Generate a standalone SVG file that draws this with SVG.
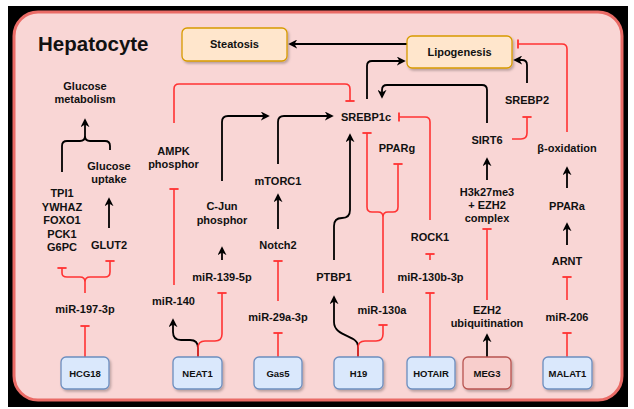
<svg xmlns="http://www.w3.org/2000/svg" width="634" height="409" viewBox="0 0 634 409">
<defs>
<style>
.lbl{font-family:"Liberation Sans",Arial,sans-serif;font-weight:bold;font-size:11px;fill:#111;text-anchor:middle}
.box{font-family:"Liberation Sans",Arial,sans-serif;font-weight:bold;font-size:9.5px;fill:#111;text-anchor:middle}
.blk{fill:none;stroke:#000;stroke-width:1.8;marker-end:url(#arr)}
.red{fill:none;stroke:#f33;stroke-width:1.6;marker-end:url(#tee)}
.redn{fill:none;stroke:#f33;stroke-width:1.6}
.lnb{fill:none;stroke:#000;stroke-width:1.8}
.lnc{fill:none;stroke:#f33;stroke-width:1.6}
.blue{fill:#dae8fc;stroke:#6c8ebf;stroke-width:1.3}
.org{fill:#ffe6cc;stroke:#d79b00;stroke-width:1.3}
.pnk{fill:#f8cecc;stroke:#b85450;stroke-width:1.3}
</style>
<marker id="arr" viewBox="0 0 10 10" refX="8" refY="5" markerWidth="9" markerHeight="9" markerUnits="userSpaceOnUse" orient="auto"><path d="M0,0 L10,5 L0,10 L3,5 Z" fill="#000"/></marker>
<marker id="tee" viewBox="0 0 4 12" refX="2" refY="6" markerWidth="4" markerHeight="10" markerUnits="userSpaceOnUse" orient="auto"><path d="M2,0.5 V11.5" stroke="#f33" stroke-width="2.2"/></marker>
<filter id="sh" x="-20%" y="-20%" width="150%" height="150%"><feDropShadow dx="1.5" dy="2" stdDeviation="1.2" flood-color="#000" flood-opacity="0.25"/></filter>
</defs>
<rect width="634" height="409" fill="#fff"/>
<rect x="8" y="6" width="620" height="401" fill="#000"/>
<rect id="hepatocyte" x="14" y="12" width="608" height="388" rx="24" fill="#f9d6d5" stroke="#ea6b66" stroke-width="3"/>
<text x="38" y="51" style="font-family:'Liberation Sans',Arial,sans-serif;font-weight:bold;font-size:20.5px;fill:#111">Hepatocyte</text>

<g id="connectors">
<path class="blk" d="M407,44 H290"/>
<path class="blk" d="M367,99 V66 Q367,61 372,61 H404"/>
<path class="blk" d="M487,123 V90 Q487,85 482,85 H387 Q382,85 382,90 V97"/>
<path class="blk" d="M527,83 V65 Q527,60 522,60 H515"/>
<path class="red" d="M512,139 H521 Q527,139 527,133 V117"/>
<path class="red" d="M567,132 V49 Q567,44 562,44 H518"/>
<path class="blk" d="M567,188 V168"/>
<path class="blk" d="M567,245 V224"/>
<path class="red" d="M567,300 V277"/>
<path class="red" d="M567,357 V333"/>
<path class="red" d="M85,357 V326"/>
<path class="red" d="M62,273 V268"/>
<path class="red" d="M110,266 V261"/>
<path class="lnc" d="M62,273 Q62,277 67,277 H80 Q85,277 85,282 Q85,277 90,277 H105 Q110,277 110,272 V266 M85,282 V293"/>
<path class="blk" d="M109,228 V199"/>
<path class="lnb" d="M62,172 V146 Q62,141 67,141 H80 Q85,141 85,136 Q85,141 90,141 H105 Q110,141 110,146 V150"/>
<path class="blk" d="M85,136 V120"/>
<path class="red" d="M174,123 V89 Q174,84 179,84 H345 Q350,84 350,89 V101"/>
<path class="red" d="M174,285 V189"/>
<path class="blk" d="M198,357 V348 Q198,340 190,340 H181 Q173,340 173,332 V320"/>
<path class="red" d="M198,357 V348 Q198,341 205,341 H215 Q222,341 222,334 V293"/>
<path class="blk" d="M222,260 V248"/>
<path class="blk" d="M222,181 V122 Q222,116 228,116 H268"/>
<path class="blk" d="M278,164 V122 Q278,116 284,116 H332"/>
<path class="blk" d="M278,229 V195"/>
<path class="red" d="M278,301 V261"/>
<path class="red" d="M278,357 V333"/>
<path class="blk" d="M334,260 V226 Q334,218 342,218 Q350,218 350,210 V135"/>
<path class="blk" d="M358,357 V346 C358,335 334,337 334,322 V297"/>
<path class="red" d="M358,357 V348 Q358,341 365,341 H376 Q383,341 383,334 V325"/>
<path class="red" d="M367,207 V133"/>
<path class="red" d="M398,207 V164"/>
<path class="lnc" d="M367,207 Q367,212 372,212 H378 Q383,212 383,217 Q383,212 388,212 H393 Q398,212 398,207 M383,217 V293"/>
<path class="red" d="M430,220 V122 Q430,117 425,117 H399"/>
<path class="red" d="M430,260 V254"/>
<path class="red" d="M430,357 V293"/>
<path class="blk" d="M487,357 V335"/>
<path class="red" d="M487,300 V229"/>
<path class="blk" d="M487,180 V159"/>
</g>

<g id="steatosis"><rect class="org" x="182" y="28" width="105" height="33" rx="5" filter="url(#sh)"/><text class="lbl" x="234.5" y="48">Steatosis</text></g>
<g id="lipogenesis"><rect class="org" x="407" y="36" width="105" height="32" rx="5" filter="url(#sh)"/><text class="lbl" x="459.5" y="56">Lipogenesis</text></g>

<g id="glucose-metabolism"><text class="lbl" x="85" y="90">Glucose</text><text class="lbl" x="85" y="103">metabolism</text></g>
<g id="glucose-uptake"><text class="lbl" x="109" y="170">Glucose</text><text class="lbl" x="109" y="183">uptake</text></g>
<g id="genes"><text class="lbl" x="62" y="197">TPI1</text><text class="lbl" x="62" y="211">YWHAZ</text><text class="lbl" x="62" y="224">FOXO1</text><text class="lbl" x="62" y="238">PCK1</text><text class="lbl" x="62" y="251">G6PC</text></g>
<g id="glut2"><text class="lbl" x="109" y="249">GLUT2</text></g>
<g id="mir-197-3p"><text class="lbl" x="85" y="313">miR-197-3p</text></g>
<g id="ampk"><text class="lbl" x="173.5" y="155">AMPK</text><text class="lbl" x="173.5" y="168">phosphor</text></g>
<g id="mir-140"><text class="lbl" x="173.5" y="305">miR-140</text></g>
<g id="cjun"><text class="lbl" x="222" y="210">C-Jun</text><text class="lbl" x="222" y="224">phosphor</text></g>
<g id="mir-139-5p"><text class="lbl" x="222" y="281">miR-139-5p</text></g>
<g id="mtorc1"><text class="lbl" x="278" y="185">mTORC1</text></g>
<g id="notch2"><text class="lbl" x="278" y="249">Notch2</text></g>
<g id="mir-29a-3p"><text class="lbl" x="278" y="321">miR-29a-3p</text></g>
<g id="srebp1c"><text class="lbl" x="366" y="121">SREBP1c</text></g>
<g id="ptbp1"><text class="lbl" x="334" y="281">PTBP1</text></g>
<g id="pparg"><text class="lbl" x="397" y="152">PPARg</text></g>
<g id="mir-130a"><text class="lbl" x="382" y="314">miR-130a</text></g>
<g id="rock1"><text class="lbl" x="430" y="241">ROCK1</text></g>
<g id="mir-130b-3p"><text class="lbl" x="430.5" y="281">miR-130b-3p</text></g>
<g id="sirt6"><text class="lbl" x="487" y="144">SIRT6</text></g>
<g id="h3k27me3"><text class="lbl" x="487" y="196">H3k27me3</text><text class="lbl" x="487" y="209">+ EZH2</text><text class="lbl" x="487" y="222">complex</text></g>
<g id="ezh2-ub"><text class="lbl" x="487" y="314">EZH2</text><text class="lbl" x="487" y="327">ubiquitination</text></g>
<g id="srebp2"><text class="lbl" x="527" y="104">SREBP2</text></g>
<g id="beta-oxidation"><text class="lbl" x="567" y="152">β-oxidation</text></g>
<g id="ppara"><text class="lbl" x="567" y="210">PPARa</text></g>
<g id="arnt"><text class="lbl" x="567" y="265">ARNT</text></g>
<g id="mir-206"><text class="lbl" x="567" y="321">miR-206</text></g>

<g id="hcg18"><rect class="blue" x="61" y="357" width="48" height="32" rx="5" filter="url(#sh)"/><text class="box" x="85" y="376.5">HCG18</text></g>
<g id="neat1"><rect class="blue" x="173" y="357" width="49" height="32" rx="5" filter="url(#sh)"/><text class="box" x="197.5" y="376.5">NEAT1</text></g>
<g id="gas5"><rect class="blue" x="254" y="357" width="48" height="32" rx="5" filter="url(#sh)"/><text class="box" x="278" y="376.5">Gas5</text></g>
<g id="h19"><rect class="blue" x="334" y="357" width="49" height="32" rx="5" filter="url(#sh)"/><text class="box" x="358.5" y="376.5">H19</text></g>
<g id="hotair"><rect class="blue" x="407" y="357" width="48" height="32" rx="5" filter="url(#sh)"/><text class="box" x="431" y="376.5">HOTAIR</text></g>
<g id="meg3"><rect class="pnk" x="463" y="357" width="48" height="32" rx="5" filter="url(#sh)"/><text class="box" x="487" y="376.5">MEG3</text></g>
<g id="malat1"><rect class="blue" x="543" y="357" width="49" height="32" rx="5" filter="url(#sh)"/><text class="box" x="567.5" y="376.5">MALAT1</text></g>
</svg>
